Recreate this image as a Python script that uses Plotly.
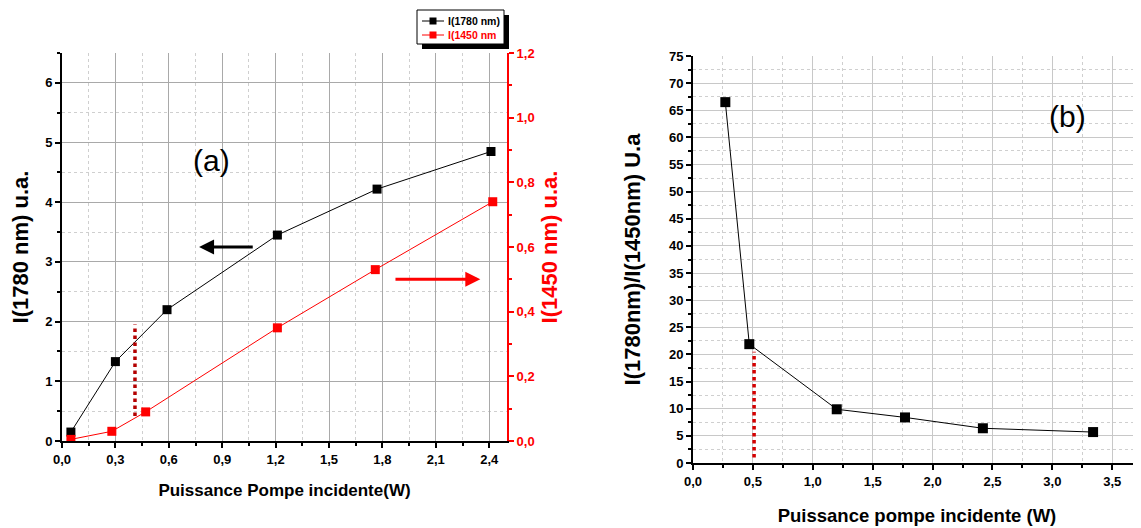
import plotly.graph_objects as go

# ---------------- Panel (a) data ----------------
power_1780 = [0.05, 0.30, 0.59, 1.21, 1.77, 2.41]
intensity_1780 = [0.15, 1.33, 2.20, 3.45, 4.22, 4.85]
power_1450 = [0.05, 0.28, 0.47, 1.21, 1.76, 2.42]
intensity_1450 = [0.005, 0.03, 0.09, 0.35, 0.53, 0.74]
threshold_a_x = [0.41, 0.41]
threshold_a_y = [0.42, 1.95]
arrow_left = dict(x_from=1.08, x_to=0.77, y=3.25)     # on left axis
arrow_right = dict(x_from=1.865, x_to=2.35, y=0.50)   # on right axis
legend_names = ["I(1780 nm)", "I(1450 nm"]
legend_colors = ["black", "red"]

# ---------------- Panel (b) data ----------------
power_ratio = [0.27, 0.47, 1.20, 1.77, 2.42, 3.34]
ratio = [66.5, 21.9, 9.9, 8.4, 6.4, 5.7]
threshold_b_x = [0.51, 0.51]
threshold_b_y = [1.0, 20.5]

FONT = "Liberation Sans, Arial, sans-serif"
PAGE_W, PAGE_H = 1141, 528
OFF = 8  # default body margin of the html page
W, H = PAGE_W - OFF, PAGE_H - OFF


def px_x(p):
    return (p - OFF) / W


def px_y(p):
    return 1 - (p - OFF) / H


tickfont = dict(family=FONT, size=13, color="black", weight="bold")
tickfont_red = dict(family=FONT, size=13, color="red", weight="bold")
BOLD = dict(tickprefix="<b>", ticksuffix="</b>")

fig = go.Figure()

fig.add_trace(go.Scatter(
    x=power_1780, y=intensity_1780, mode="lines+markers",
    name=legend_names[0],
    line=dict(color="black", width=1),
    marker=dict(symbol="square", size=9, color="black"),
    xaxis="x", yaxis="y"))
fig.add_trace(go.Scatter(
    x=power_1450, y=intensity_1450, mode="lines+markers",
    name=legend_names[1],
    line=dict(color="red", width=1),
    marker=dict(symbol="square", size=9, color="red"),
    xaxis="x", yaxis="y2"))
fig.add_trace(go.Scatter(
    x=threshold_a_x, y=threshold_a_y, mode="lines",
    line=dict(color="#b30000", width=3.5, dash="dot"),
    xaxis="x", yaxis="y"))

fig.add_trace(go.Scatter(
    x=power_ratio, y=ratio, mode="lines+markers",
    line=dict(color="black", width=1),
    marker=dict(symbol="square", size=10, color="black"),
    xaxis="x3", yaxis="y3"))
fig.add_trace(go.Scatter(
    x=threshold_b_x, y=threshold_b_y, mode="lines",
    line=dict(color="#d40000", width=3.5, dash="dot"),
    xaxis="x3", yaxis="y3"))

dom_a_x = [px_x(62), px_x(507)]
dom_a_y = [px_y(441), px_y(53)]
dom_b_x = [px_x(693), 1.0]
dom_b_y = [px_y(463), px_y(56)]

common = dict(showline=True, linecolor="black", linewidth=2, zeroline=False,
              tickfont=tickfont, tickcolor="black", tickwidth=1.5,
              automargin=False, **BOLD)

fig.update_layout(
    width=W, height=H,
    margin=dict(l=0, r=0, t=0, b=0, autoexpand=False),
    paper_bgcolor="white", plot_bgcolor="white",
    separators=", ",
    showlegend=False,
    font=dict(family=FONT, color="black"),
    xaxis=dict(
        domain=dom_a_x, anchor="y", range=[0, 2.5],
        tickmode="linear", tick0=0, dtick=0.3, tickformat=".1f",
        ticks="outside", ticklen=5,
        showgrid=True, gridcolor="#a9a9a9", gridwidth=1,
        minor=dict(tick0=0, dtick=0.15, ticks="outside", ticklen=3,
                   tickcolor="black", showgrid=True, griddash="dot",
                   gridcolor="#cfcfcf"),
        title=dict(text="<b>Puissance Pompe incidente(W)</b>",
                   font=dict(family=FONT, size=17), standoff=19),
        **common),
    xaxis2=dict(
        overlaying="x", side="top", anchor="y", range=[0, 2.5],
        tickmode="linear", tick0=0, dtick=0.3, ticks="inside", ticklen=6,
        showticklabels=False, showgrid=False, showline=True,
        linecolor="black", linewidth=2, tickcolor="black", tickwidth=1.5,
        zeroline=False, automargin=False,
        minor=dict(tick0=0, dtick=0.15, ticks="inside", ticklen=4,
                   tickcolor="black", showgrid=False)),
    yaxis=dict(
        domain=dom_a_y, anchor="x", range=[0, 6.5],
        tickmode="linear", tick0=0, dtick=1, tickformat="d",
        ticks="outside", ticklen=5,
        showgrid=True, gridcolor="#a9a9a9", gridwidth=1,
        minor=dict(tick0=0, dtick=0.5, ticks="outside", ticklen=3,
                   tickcolor="black", showgrid=True, griddash="dot",
                   gridcolor="#cfcfcf"),
        title=dict(text="<b>I(1780 nm) u.a.</b>",
                   font=dict(family=FONT, size=22), standoff=10),
        **common),
    yaxis2=dict(
        overlaying="y", side="right", anchor="x", range=[0, 1.2],
        tickmode="linear", tick0=0, dtick=0.2, tickformat=".1f",
        ticks="outside", ticklen=5, tickcolor="red", tickwidth=1.5,
        showgrid=False, showline=True, linecolor="red", linewidth=2,
        zeroline=False, tickfont=tickfont_red, automargin=False,
        minor=dict(tick0=0, dtick=0.1, ticks="outside", ticklen=3,
                   tickcolor="red", showgrid=False),
        title=dict(text="<b>I(1450 nm) u.a.</b>",
                   font=dict(family=FONT, size=22, color="red"), standoff=7),
        **BOLD),
    xaxis3=dict(
        domain=dom_b_x, anchor="y3", range=[0, 3.74],
        tickmode="linear", tick0=0, dtick=0.5, tickformat=".1f",
        ticks="outside", ticklen=5,
        showgrid=True, gridcolor="#c8c8c8", gridwidth=1,
        minor=dict(tick0=0, dtick=0.25, ticks="outside", ticklen=3,
                   tickcolor="black", showgrid=True, griddash="dot",
                   gridcolor="#cfcfcf"),
        title=dict(text="<b>Puissance pompe incidente (W)</b>",
                   font=dict(family=FONT, size=18.5), standoff=21),
        **common),
    xaxis4=dict(
        overlaying="x3", side="top", anchor="y3", range=[0, 3.74],
        tickmode="linear", tick0=0, dtick=0.5, ticks="inside", ticklen=6,
        showticklabels=False, showgrid=False, showline=True,
        linecolor="black", linewidth=2, tickcolor="black", tickwidth=1.5,
        zeroline=False, automargin=False,
        minor=dict(tick0=0, dtick=0.25, ticks="inside", ticklen=4,
                   tickcolor="black", showgrid=False)),
    yaxis3=dict(
        domain=dom_b_y, anchor="x3", range=[0, 75],
        tickmode="linear", tick0=0, dtick=5, tickformat="d",
        ticks="outside", ticklen=5,
        showgrid=True, gridcolor="#c8c8c8", gridwidth=1,
        minor=dict(tick0=0, dtick=2.5, ticks="outside", ticklen=3,
                   tickcolor="black", showgrid=True, griddash="dot",
                   gridcolor="#cfcfcf"),
        title=dict(text="<b>I(1780nm)/I(1450nm) U.a</b>",
                   font=dict(family=FONT, size=22), standoff=22),
        **common),
    yaxis4=dict(
        overlaying="y3", side="right", anchor="x3", range=[0, 75],
        tickmode="linear", tick0=0, dtick=5, ticks="inside", ticklen=5,
        showticklabels=False, showgrid=False, showline=False,
        tickcolor="black", tickwidth=1.5, zeroline=False, automargin=False),
)

fig.add_annotation(text="(a)", x=px_x(211), y=px_y(160), xref="paper", yref="paper",
                   xanchor="center", yanchor="middle", showarrow=False,
                   font=dict(family=FONT, size=30, color="black"))
fig.add_annotation(text="(b)", x=px_x(1067), y=px_y(116), xref="paper", yref="paper",
                   xanchor="center", yanchor="middle", showarrow=False,
                   font=dict(family=FONT, size=30, color="black"))

fig.add_annotation(x=arrow_left["x_to"], y=arrow_left["y"],
                   ax=arrow_left["x_from"], ay=arrow_left["y"],
                   xref="x", yref="y", axref="x", ayref="y", text="",
                   showarrow=True, arrowhead=2, arrowsize=1, arrowwidth=3,
                   arrowcolor="black")
fig.add_annotation(x=arrow_right["x_to"], y=arrow_right["y"],
                   ax=arrow_right["x_from"], ay=arrow_right["y"],
                   xref="x", yref="y2", axref="x", ayref="y2", text="",
                   showarrow=True, arrowhead=2, arrowsize=1, arrowwidth=3,
                   arrowcolor="red")

# ---------------- legend box (drawn by hand, with drop shadow) ----------------
fig.add_shape(type="rect", xref="paper", yref="paper",
              x0=px_x(422), x1=px_x(509), y0=px_y(49), y1=px_y(15),
              fillcolor="black", line=dict(width=0), layer="above")
fig.add_shape(type="rect", xref="paper", yref="paper",
              x0=px_x(417), x1=px_x(504), y0=px_y(44), y1=px_y(10),
              fillcolor="white", line=dict(color="black", width=1), layer="above")
for i, (name, col) in enumerate(zip(legend_names, legend_colors)):
    yy = 21 + 14 * i
    fig.add_shape(type="line", xref="paper", yref="paper",
                  x0=px_x(422), x1=px_x(444), y0=px_y(yy), y1=px_y(yy),
                  line=dict(color=col, width=1), layer="above")
    fig.add_shape(type="rect", xref="paper", yref="paper",
                  x0=px_x(429.5), x1=px_x(436.5), y0=px_y(yy + 3.5), y1=px_y(yy - 3.5),
                  fillcolor=col, line=dict(width=0), layer="above")
    fig.add_annotation(text="<b>" + name + "</b>", x=px_x(446), y=px_y(yy),
                       xref="paper", yref="paper", xanchor="left", yanchor="middle",
                       showarrow=False,
                       font=dict(family=FONT, size=10.5, color=col))

fig.write_html("out.html")
